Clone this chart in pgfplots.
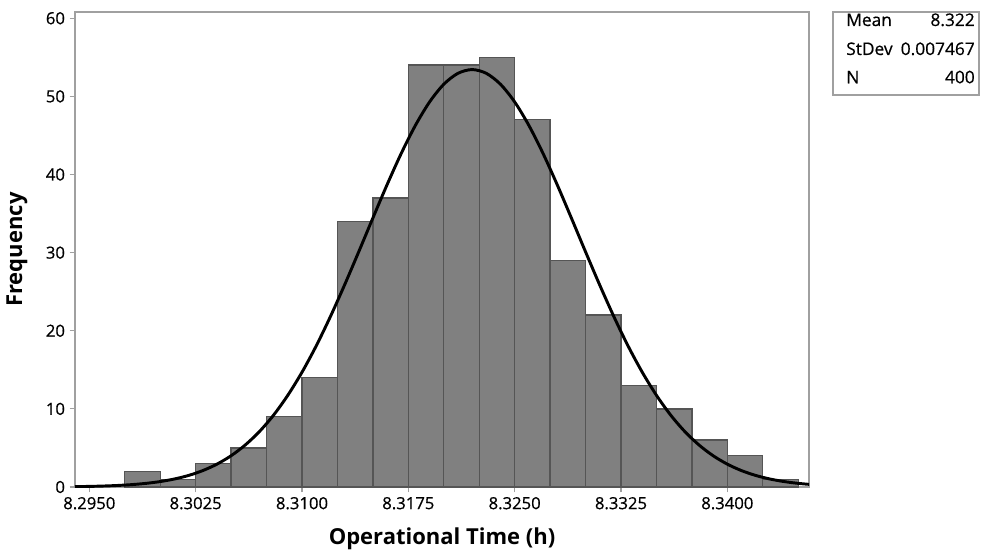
\documentclass[border=0pt]{standalone}
\usepackage{fontspec}
\setmainfont{Open Sans}
\newfontfamily\medfont{Open Sans}[FakeBold=0.5]
\usepackage{pgfplots}
\pgfplotsset{compat=1.18}
\definecolor{barfill}{RGB}{128,128,128}
\definecolor{baredge}{RGB}{85,85,85}
\definecolor{framecol}{RGB}{160,160,160}

\begin{document}
\begin{tikzpicture}
\begin{axis}[
  at={(0,0)}, anchor=south west,
  scale only axis, width=550.5pt, height=356.25pt,
  xmin=8.29399, xmax=8.34576, ymin=0, ymax=60.8,
  xtick={8.2950,8.3025,8.3100,8.3175,8.3250,8.3325,8.3400},
  ytick={0,10,20,30,40,50,60},
  scaled x ticks=false,
  tick pos=left, tick align=outside,
  major tick length=4pt,
  tick style={framecol, line width=0.8pt},
  axis line style={framecol, line width=1pt},
  /pgf/number format/assume math mode=true,
  xticklabel style={/pgf/number format/.cd, fixed, fixed zerofill, precision=4},
  tick label style={font=\medfont\fontsize{12.5}{14}\selectfont},
  xlabel={Operational Time (h)},
  ylabel={Frequency},
  label style={font=\fontsize{16.5}{18}\selectfont\bfseries},
  xlabel style={at={(axis description cs:0.5,-0.1095)}, anchor=center},
  ylabel style={at={(axis description cs:-0.079,0.5)}, anchor=center},
]
% histogram, bin width 0.0025
\addplot[ybar interval, fill=barfill, draw=baredge, line width=1pt] coordinates {
  (8.2975,2) (8.3000,1) (8.3025,3) (8.3050,5) (8.3075,9)
  (8.3100,14) (8.3125,34) (8.3150,37) (8.3175,54) (8.3200,54)
  (8.3225,55) (8.3250,47) (8.3275,29) (8.3300,22) (8.3325,13)
  (8.3350,10) (8.3375,6) (8.3400,4) (8.3425,1) (8.3450,0)
};
% fitted normal (mean 8.322, sd 0.007467, N 400)
\addplot[smooth, no marks, black, line width=2.2pt] coordinates {
  (8.293,0.028) (8.294,0.047) (8.295,0.077) (8.296,0.125) (8.297,0.197)
  (8.298,0.306) (8.299,0.465) (8.300,0.697) (8.301,1.024) (8.302,1.479)
  (8.303,2.099) (8.304,2.923) (8.305,4.001) (8.306,5.38) (8.307,7.10)
  (8.308,9.21) (8.309,11.74) (8.310,14.69) (8.311,18.05) (8.312,21.80)
  (8.313,25.85) (8.314,30.10) (8.315,34.43) (8.316,38.69) (8.317,42.70)
  (8.318,46.29) (8.319,49.29) (8.320,51.55) (8.321,52.95) (8.322,53.43)
  (8.323,52.95) (8.324,51.55) (8.325,49.29) (8.326,46.29) (8.327,42.70)
  (8.328,38.69) (8.329,34.43) (8.330,30.10) (8.331,25.85) (8.332,21.80)
  (8.333,18.05) (8.334,14.69) (8.335,11.74) (8.336,9.21) (8.337,7.10)
  (8.338,5.38) (8.339,4.001) (8.340,2.923) (8.341,2.099) (8.342,1.479)
  (8.343,1.024) (8.344,0.697) (8.345,0.465) (8.346,0.306) (8.347,0.197)
};
\end{axis}
% summary box
\draw[framecol, line width=0.8pt] (568.5pt,294pt) rectangle (678pt,356.25pt);
\begin{scope}[every node/.style={inner sep=0pt, font=\medfont\fontsize{13}{15}\selectfont}]
  \node[anchor=base west] at (578.25pt,345.75pt) {Mean};
  \node[anchor=base east] at (675pt,345.75pt) {8.322};
  \node[anchor=base west] at (578.25pt,324pt) {StDev};
  \node[anchor=base east] at (675pt,324pt) {0.007467};
  \node[anchor=base west] at (578.25pt,302.8pt) {N};
  \node[anchor=base east] at (675pt,302.8pt) {400};
\end{scope}
\path[use as bounding box] (-56.25pt,-52.5pt) rectangle (679.5pt,365.25pt);
\end{tikzpicture}
\end{document}
